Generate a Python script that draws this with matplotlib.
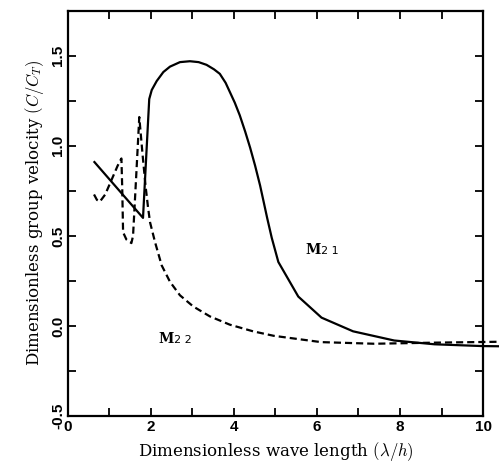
import matplotlib
matplotlib.use("Agg")
import matplotlib.pyplot as plt
from matplotlib.ticker import MultipleLocator

plt.rcParams['mathtext.fontset'] = 'cm'

# M21 mode (solid)
m21_x = [0.64, 1.81, 1.96, 2.02, 2.14, 2.30, 2.46, 2.70, 2.94, 3.15, 3.34, 3.52, 3.66,
         3.80, 3.90, 4.02, 4.14, 4.27, 4.39, 4.51, 4.63, 4.72, 4.80, 4.91, 5.07,
         5.55, 6.11, 6.87, 7.86, 8.83, 9.99, 10.39]
m21_y = [0.91, 0.60, 1.26, 1.31, 1.36, 1.41, 1.44, 1.465, 1.47, 1.465, 1.45, 1.425, 1.40,
         1.35, 1.30, 1.24, 1.17, 1.08, 0.99, 0.89, 0.78, 0.685, 0.60, 0.49, 0.355,
         0.163, 0.046, -0.03, -0.081, -0.102, -0.112, -0.113]

# M22 mode (dashed)
m22_x = [0.63, 0.70, 0.77, 0.90, 1.05, 1.20, 1.29, 1.31, 1.33, 1.41, 1.53, 1.57, 1.65,
         1.72, 1.80, 1.87, 1.93, 1.98, 2.10, 2.26, 2.46, 2.70, 3.02, 3.42, 3.90,
         4.46, 4.96, 6.10, 7.38, 8.82, 10.39]
m22_y = [0.73, 0.70, 0.69, 0.73, 0.81, 0.89, 0.93, 0.76, 0.52, 0.48, 0.46, 0.50, 0.85,
         1.16, 0.95, 0.78, 0.66, 0.575, 0.465, 0.336, 0.245, 0.17, 0.108, 0.053, 0.007,
         -0.03, -0.055, -0.09, -0.099, -0.093, -0.088]

x_ticks = [0, 2, 4, 6, 8, 10]
y_ticks = [-0.5, 0.0, 0.5, 1.0, 1.5]

fig = plt.figure(figsize=(4.99, 4.70), dpi=100)
ax = fig.add_axes([0.136, 0.115, 0.832, 0.862])

ax.plot(m21_x, m21_y, color='black', lw=1.6, clip_on=False)
ax.plot(m22_x, m22_y, color='black', lw=1.6, ls=(0, (3.2, 1.8)), clip_on=False)

ax.set_xlim(0, 10)
ax.set_ylim(-0.5, 1.75)
ax.set_xticks(x_ticks)
ax.set_yticks(y_ticks)
ax.xaxis.set_minor_locator(MultipleLocator(1))
ax.yaxis.set_minor_locator(MultipleLocator(0.25))
ax.set_xticklabels([f"{v:g}" for v in x_ticks], fontsize=11, fontweight='bold',
                   family='Liberation Sans')
ax.set_yticklabels([f"{v:.1f}" for v in y_ticks], fontsize=11, fontweight='bold',
                   family='Liberation Sans', rotation=90, va='center')
ax.tick_params(which='both', direction='in', top=True, right=True, width=1.3)
ax.tick_params(which='major', length=6)
ax.tick_params(which='minor', length=6)
ax.tick_params(axis='x', pad=3)
ax.tick_params(axis='y', pad=2)
for s in ax.spines.values():
    s.set_linewidth(1.6)

ax.set_xlabel(r"Dimensionless wave length $(\lambda/h)$", fontsize=12,
              family='DejaVu Serif', labelpad=4)
ax.set_ylabel(r"Dimensionless group velocity $(C/C_T)$", fontsize=12,
              family='DejaVu Serif', labelpad=4)

for (lx, ly, sub) in [(5.73, 0.40, "2 1"), (2.19, -0.093, "2 2")]:
    ax.text(lx, ly, "M", fontsize=10, fontweight='bold', family='DejaVu Serif',
            va='baseline', ha='left')
    ax.annotate(sub, (lx, ly), xytext=(11, 0), textcoords='offset points',
                fontsize=8, va='baseline', ha='left')

fig.savefig("out.png", dpi=100)
